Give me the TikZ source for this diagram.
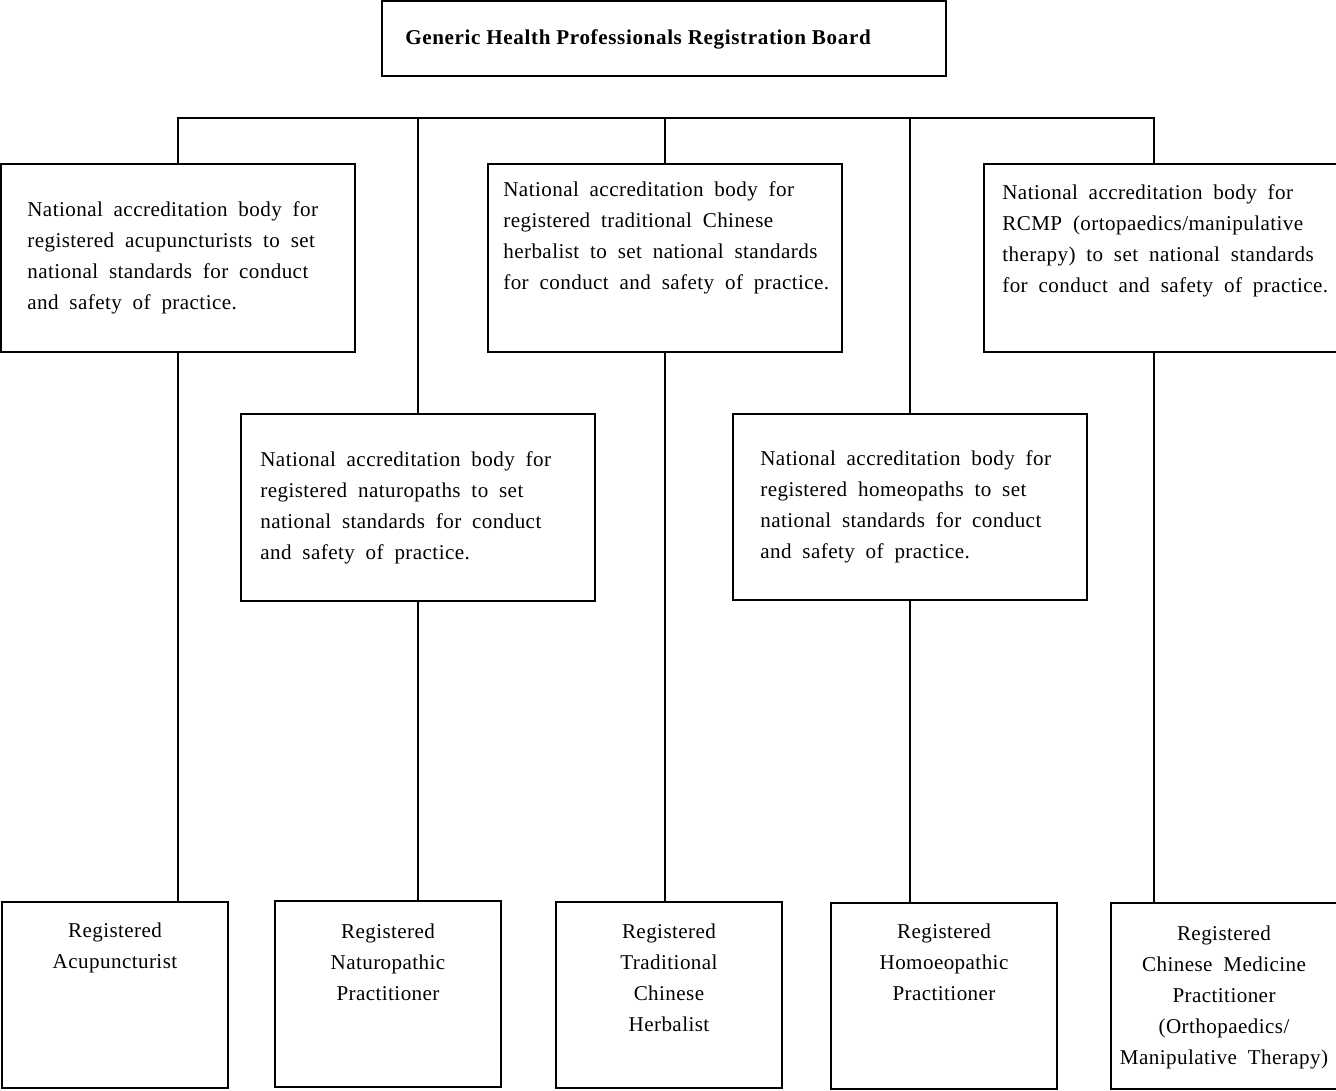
\documentclass[tikz,border=0pt]{standalone}
\usepackage{fontspec}
\setmainfont{Liberation Serif}[WordSpace={1.9}, LetterSpace=2]
\newfontfamily\titlefont{Liberation Serif}[LetterSpace=3]
\usepackage{tikz}

\begin{document}
\begin{tikzpicture}[x=0.02cm, y=-0.02cm,
        box/.style={draw, line width=0.7pt, inner sep=0pt},
        bodybox/.style={box, minimum width=7.08cm, minimum height=3.76cm},
        regbox/.style={box, minimum width=4.52cm, minimum height=3.72cm},
        bodytext/.style={anchor=base west, align=left, inner sep=0pt,
            font=\fontsize{12}{17.6}\selectfont},
        regtext/.style={anchor=base, align=center, inner sep=0pt,
            font=\fontsize{12}{17.6}\selectfont},
        link/.style={line width=0.7pt}]
    \useasboundingbox (0,0) rectangle (1336,1090);

    % board
    \node[box, minimum width=11.28cm, minimum height=1.5cm] (board) at (664,38.5) {};
    \node[anchor=base west, inner sep=0pt, font=\titlefont\fontsize{12}{14}\selectfont\bfseries]
        (boardtext) at (405,44) {Generic Health Professionals Registration Board};

    % accreditation bodies
    \node[bodybox] (acup) at (178,258) {};
    \node[bodybox] (tch) at (665,258) {};
    \node[bodybox] (rcmp) at (1161,258) {};
    \node[bodybox, minimum height=3.74cm] (naturo) at (418,507.5) {};
    \node[bodybox, minimum height=3.72cm] (homeo) at (910,507) {};

    % (base of a multi-line node = last line)
    \node[bodytext] (acuptext) at (27,309) {National accreditation body for\\
        registered acupuncturists to set\\ national standards for conduct\\
        and safety of practice.};
    \node[bodytext] (tchtext) at (503,289) {National accreditation body for\\
        registered traditional Chinese\\ herbalist to set national standards\\
        for conduct and safety of practice.};
    \node[bodytext] (rcmptext) at (1002,292) {National accreditation body for\\
        RCMP (ortopaedics/manipulative\\ therapy) to set national standards\\
        for conduct and safety of practice.};
    \node[bodytext] (naturotext) at (260,559) {National accreditation body for\\
        registered naturopaths to set\\ national standards for conduct\\
        and safety of practice.};
    \node[bodytext] (homeotext) at (760,558) {National accreditation body for\\
        registered homeopaths to set\\ national standards for conduct\\
        and safety of practice.};

    % registered practitioners
    \node[regbox] (racup) at (115,995) {};
    \node[regbox] (rnatur) at (388,994) {};
    \node[regbox] (rtch) at (669,995) {};
    \node[regbox] (rhomeo) at (944,996) {};
    \node[regbox] (rcmpr) at (1224,996) {};

    \node[regtext] (racuptext) at (115,968) {Registered\\ Acupuncturist};
    \node[regtext] (rnaturtext) at (388,1000) {Registered\\ Naturopathic\\ Practitioner};
    \node[regtext] (rtchtext) at (669,1031) {Registered\\ Traditional\\ Chinese\\ Herbalist};
    \node[regtext] (rhomeotext) at (944,1000) {Registered\\ Homoeopathic\\ Practitioner};
    \node[regtext] (rcmprtext) at (1224,1064) {Registered\\ Chinese Medicine\\
        Practitioner\\ (Orthopaedics/\\ Manipulative Therapy)};

    % connectors
    \coordinate (cmpjoin) at (1154,118);
    \draw[link] (acup.north) -- (acup.north |- cmpjoin) -- (cmpjoin) -- (cmpjoin |- rcmp.north);
    \draw[link] (naturo.north) -- (naturo.north |- cmpjoin);
    \draw[link] (tch.north) -- (tch.north |- cmpjoin);
    \draw[link] (homeo.north) -- (homeo.north |- cmpjoin);
    \draw[link] (acup.south) -- (acup.south |- racup.north);
    \draw[link] (naturo.south) -- (naturo.south |- rnatur.north);
    \draw[link] (tch.south) -- (tch.south |- rtch.north);
    \draw[link] (homeo.south) -- (homeo.south |- rhomeo.north);
    \draw[link] (cmpjoin |- rcmp.south) -- (cmpjoin |- rcmpr.north);
\end{tikzpicture}
\end{document}
